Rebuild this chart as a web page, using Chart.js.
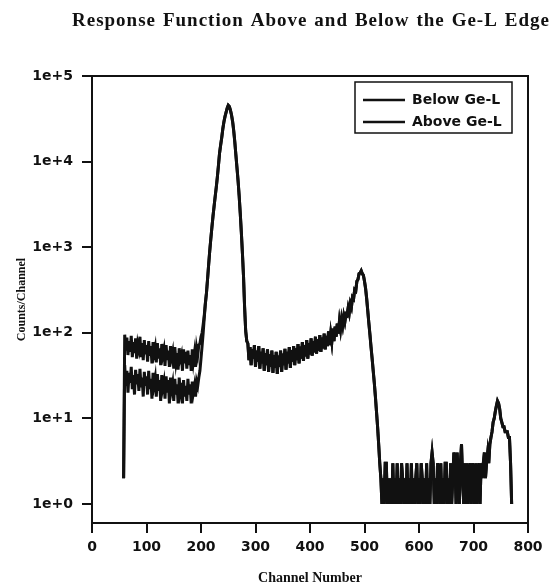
<!DOCTYPE html>
<html>
<head>
<meta charset="utf-8">
<script src="https://cdn.jsdelivr.net/npm/chart.js@4.4.1/dist/chart.umd.min.js"></script>
<style>
  html, body { margin: 0; padding: 0; background: #fff; }
  canvas { display: block; }
</style>
</head>
<body>
<canvas id="respChart" width="552" height="587"></canvas>
<script>
const chartTitle = "Response Function Above and Below the Ge-L Edge";
const seriesNames = ["Below Ge-L", "Above Ge-L"];
const channelStart = 58; // first channel
const channelStep = 2;   // one reading every 2 channels

// channels 58..206 - the two runs differ here
const belowLow = [
  2, 95, 62, 88, 55, 80, 60, 92, 52, 78,
  58, 86, 50, 74, 64, 90, 52, 76, 48, 82,
  56, 72, 46, 80, 54, 70, 44, 78, 58, 68,
  45, 76, 50, 66, 42, 74, 55, 64, 41, 72,
  48, 62, 40, 70, 52, 60, 38, 68, 46, 58,
  37, 66, 50, 56, 36, 64, 44, 60, 38, 62,
  42, 55, 36, 64, 46, 58, 40, 66, 55, 72,
  75, 90, 100, 125, 160
];
const aboveLow = [
  2, 42, 24, 36, 20, 34, 26, 40, 22, 32,
  19, 37, 25, 33, 21, 38, 23, 30, 18, 35,
  24, 31, 19, 36, 22, 29, 17, 34, 25, 30,
  18, 33, 21, 28, 16, 32, 23, 27, 17, 31,
  20, 28, 15, 30, 22, 26, 16, 29, 19, 25,
  15, 30, 21, 26, 15, 28, 18, 24, 16, 29,
  19, 25, 15, 27, 20, 24, 18, 27, 24, 30,
  36, 50, 70, 100, 150
];

// channels 208..770 - both runs lie on top of each other
const mainPeak = [ // 208..284
  220, 290, 420, 620, 900, 1250, 1700, 2300, 3000, 3900,
  5000, 6600, 9000, 12500, 15500, 19000, 24000, 29000, 33500, 37500,
  42000, 45500, 44000, 40000, 35000, 29500, 23000, 17000, 12000, 8500,
  6000, 4000, 2500, 1500, 850, 460, 200, 105, 80
];
const valley = [ // 286..466
  75, 48, 68, 42, 64, 50, 72, 40, 62, 46,
  70, 38, 60, 44, 66, 36, 58, 42, 64, 35,
  56, 40, 62, 34, 55, 39, 60, 33, 54, 40,
  62, 35, 57, 42, 65, 37, 60, 44, 68, 39,
  63, 46, 70, 42, 66, 48, 74, 44, 69, 50,
  78, 47, 72, 53, 82, 50, 76, 56, 86, 54,
  80, 59, 90, 57, 84, 62, 94, 60, 88, 66,
  98, 64, 92, 70, 104, 72, 98, 78, 112, 80,
  118, 90, 128, 98, 136, 110, 145, 122, 156, 135,
  165
];
const escapePeak = [ // 468..530
  160, 195, 170, 220, 200, 260, 250, 320, 310, 400,
  420, 490, 500, 530, 490, 470, 400, 330, 250, 180,
  130, 95, 68, 50, 36, 26, 18, 12, 8, 5,
  3, 2
];
const tail = [ // 532..730
  1, 2, 1, 3, 3, 1, 2, 1, 2, 1,
  3, 1, 2, 1, 3, 1, 2, 1, 3, 2,
  1, 2, 1, 3, 1, 2, 1, 3, 1, 2,
  1, 2, 3, 1, 2, 1, 3, 2, 1, 2,
  1, 3, 1, 2, 1, 3, 4, 3, 1, 2,
  1, 3, 2, 1, 3, 1, 2, 1, 3, 3,
  1, 2, 1, 3, 1, 2, 4, 3, 1, 4,
  2, 1, 3, 5, 2, 1, 3, 1, 3, 1,
  2, 3, 1, 3, 2, 1, 3, 1, 2, 3,
  1, 3, 2, 3, 4, 2, 3, 4, 3, 5
];
const smallPeak = [ // 732..770
  6, 7, 9, 10, 12, 14, 16, 15, 13, 10,
  9, 8, 8, 7, 7, 7, 6, 6, 3, 1
];
const sharedHigh = mainPeak.concat(valley, escapePeak, tail, smallPeak);

const xTicks = [0, 100, 200, 300, 400, 500, 600, 700, 800];
const yTicks = [1, 10, 100, 1000, 10000, 100000];

const ink = '#111';

function toPoints(values) {
  return values.map((v, i) => ({ x: channelStart + i * channelStep, y: v }));
}

const belowData = toPoints(belowLow.concat(sharedHigh));
const aboveData = toPoints(aboveLow.concat(sharedHigh));

// box around the plot (top and right sides)
const frame = {
  id: 'frame',
  afterDraw(chart) {
    const { ctx, chartArea } = chart;
    ctx.save();
    ctx.strokeStyle = ink;
    ctx.lineWidth = 2;
    ctx.beginPath();
    ctx.moveTo(chartArea.left, chartArea.top);
    ctx.lineTo(chartArea.right, chartArea.top);
    ctx.lineTo(chartArea.right, chartArea.bottom);
    ctx.stroke();
    ctx.restore();
  }
};

// legend inside a box at the top right of the plot
const boxLegend = {
  id: 'boxLegend',
  afterDatasetsDraw(chart) {
    const { ctx, chartArea } = chart;
    const w = 157, h = 51;
    const left = chartArea.right - 16 - w;
    const top = chartArea.top + 6;
    ctx.save();
    ctx.fillStyle = '#fff';
    ctx.fillRect(left, top, w, h);
    ctx.strokeStyle = ink;
    ctx.lineWidth = 1.5;
    ctx.strokeRect(left, top, w, h);
    ctx.font = 'bold 14px "DejaVu Sans"';
    ctx.textBaseline = 'middle';
    ctx.fillStyle = ink;
    chart.data.datasets.forEach((ds, i) => {
      const y = top + 18 + i * 22;
      ctx.lineWidth = 2.5;
      ctx.beginPath();
      ctx.moveTo(left + 8, y);
      ctx.lineTo(left + 50, y);
      ctx.stroke();
      ctx.fillText(ds.label, left + 57, y);
    });
    ctx.restore();
  }
};

// title with wide word gaps like the original
const spacedTitle = {
  id: 'spacedTitle',
  afterDraw(chart) {
    const ctx = chart.ctx;
    ctx.save();
    ctx.font = 'bold 19px "Liberation Serif"';
    ctx.fillStyle = ink;
    ctx.textBaseline = 'alphabetic';
    ctx.letterSpacing = '1px';
    ctx.wordSpacing = '0px';
    const w = ctx.measureText(chartTitle).width;
    const gaps = chartTitle.split(' ').length - 1;
    ctx.wordSpacing = Math.max(0, (478 - w) / gaps).toFixed(2) + 'px';
    ctx.fillText(chartTitle, 72, 26);
    ctx.restore();
  }
};

Chart.defaults.font.family = '"DejaVu Sans"';
Chart.defaults.color = ink;

const ctx = document.getElementById('respChart').getContext('2d');
const respChart = new Chart(ctx, {
  type: 'line',
  data: {
    datasets: [{
      label: seriesNames[0],
      data: belowData,
      borderColor: ink,
      borderWidth: 3,
      pointRadius: 0,
      tension: 0,
      fill: false
    }, {
      label: seriesNames[1],
      data: aboveData,
      borderColor: ink,
      borderWidth: 3,
      pointRadius: 0,
      tension: 0,
      fill: false
    }]
  },
  options: {
    responsive: false,
    animation: false,
    devicePixelRatio: 1,
    layout: { padding: { top: 76, right: 24, left: 0, bottom: 0 } },
    plugins: {
      legend: { display: false },
      title: { display: false },
      tooltip: { enabled: false }
    },
    scales: {
      x: {
        type: 'linear',
        min: 0,
        max: 800,
        afterBuildTicks: scale => { scale.ticks = xTicks.map(v => ({ value: v })); },
        afterFit: scale => { scale.height = 64; },
        ticks: {
          font: { size: 14, weight: 'bold' },
          padding: 6,
          maxRotation: 0
        },
        grid: { drawOnChartArea: false, tickLength: 10, color: ink, lineWidth: 2 },
        border: { color: ink, width: 2 },
        title: {
          display: true,
          text: 'Channel Number',
          font: { family: '"Liberation Serif"', size: 14, weight: 'bold' },
          padding: { top: 0, bottom: 0 }
        }
      },
      y: {
        type: 'logarithmic',
        min: 0.62,
        max: 100000,
        afterBuildTicks: scale => { scale.ticks = yTicks.map(v => ({ value: v })); },
        afterFit: scale => { scale.width = 92; },
        ticks: {
          font: { size: 14, weight: 'bold' },
          padding: 9,
          callback: v => '1e+' + Math.round(Math.log10(v))
        },
        grid: { drawOnChartArea: false, tickLength: 10, color: ink, lineWidth: 2 },
        border: { color: ink, width: 2 },
        title: {
          display: true,
          text: 'Counts/Channel',
          font: { family: '"Liberation Serif"', size: 12, weight: 'bold' },
          padding: { top: 15, bottom: 0 }
        }
      }
    }
  },
  plugins: [frame, boxLegend, spacedTitle]
});
</script>
</body>
</html>
